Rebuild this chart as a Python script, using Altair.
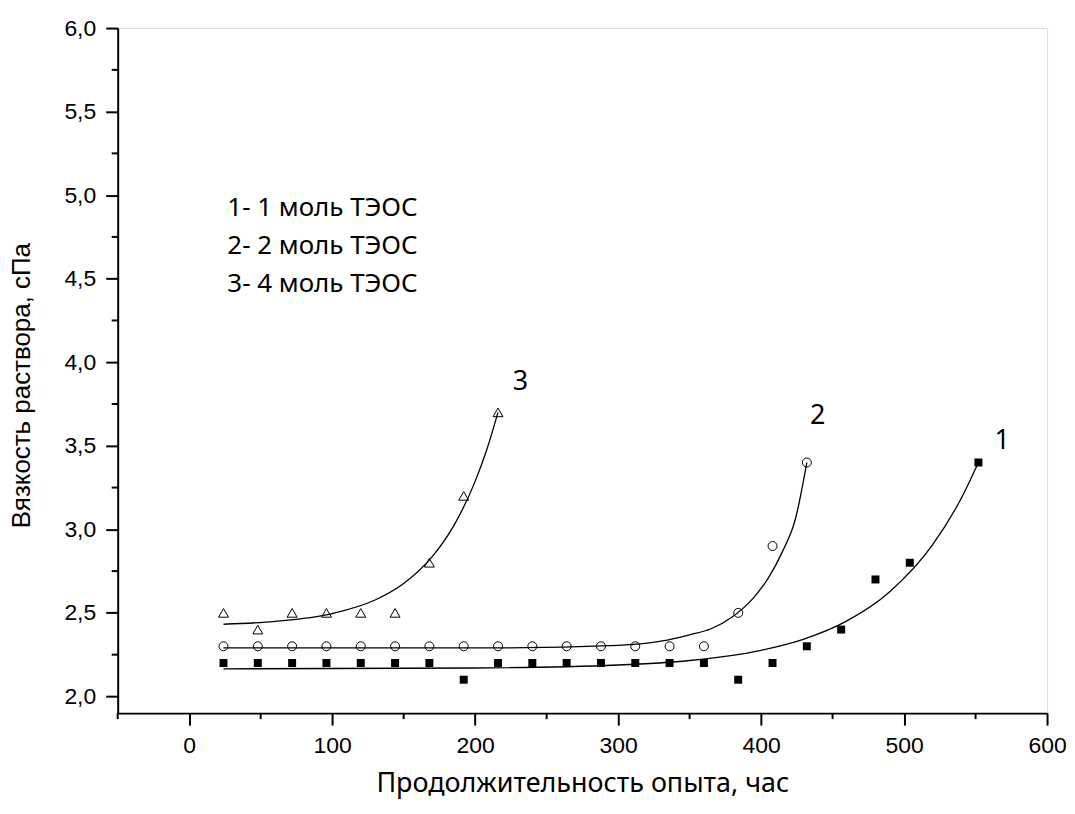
import altair as alt
import pandas as pd

# ---- measured points ----
X1 = [24, 48, 72, 96, 120, 144, 168, 192, 216, 240, 264, 288, 312, 336, 360,
      384, 408, 432, 456, 480, 504, 552]
Y1 = [2.2, 2.2, 2.2, 2.2, 2.2, 2.2, 2.2, 2.1, 2.2, 2.2, 2.2, 2.2, 2.2, 2.2, 2.2,
      2.1, 2.2, 2.3, 2.4, 2.7, 2.8, 3.4]

X2 = [24, 48, 72, 96, 120, 144, 168, 192, 216, 240, 264, 288, 312, 336, 360,
      384, 408, 432]
Y2 = [2.3, 2.3, 2.3, 2.3, 2.3, 2.3, 2.3, 2.3, 2.3, 2.3, 2.3, 2.3, 2.3, 2.3, 2.3,
      2.5, 2.9, 3.4]

X3 = [24, 48, 72, 96, 120, 144, 168, 192, 216]
Y3 = [2.5, 2.4, 2.5, 2.5, 2.5, 2.5, 2.8, 3.2, 3.7]

# ---- fitted curves ----
C1X = [24, 200, 300, 350, 400, 430, 460, 490, 520, 540, 552]
C1Y = [2.165, 2.170, 2.188, 2.215, 2.276, 2.343, 2.452, 2.627, 2.908, 3.186, 3.40]

C2X = [24, 200, 300, 330, 350, 365, 380, 395, 405, 415, 424, 432]
C2Y = [2.29, 2.29, 2.306, 2.331, 2.369, 2.405, 2.477, 2.593, 2.708, 2.868, 3.062, 3.40]

C3X = [24, 60, 100, 130, 150, 170, 185, 200, 208, 216]
C3Y = [2.432, 2.449, 2.496, 2.577, 2.676, 2.837, 3.021, 3.287, 3.473, 3.70]

# ---- text ----
LEGEND_LINES = ["1- 1 моль ТЭОС", "2- 2 моль ТЭОС", "3- 4 моль ТЭОС"]
LEGEND_X = [26.7, 26.7, 26.7]
LEGEND_Y = [4.922, 4.694, 4.466]

CURVE_LABELS = ["1", "2", "3"]
CURVE_LABEL_X = [568.6, 439.6, 231.7]
CURVE_LABEL_Y = [3.53, 3.68, 3.88]

X_TITLE = "Продолжительность опыта, час"
Y_TITLE = "Вязкость раствора, сПа"

X_DOMAIN = [-50, 600]
Y_DOMAIN = [1.9, 6.0]
X_MAJOR = [0, 100, 200, 300, 400, 500, 600]
X_MINOR = [-50, 50, 150, 250, 350, 450, 550]
Y_MAJOR = [2.0, 2.5, 3.0, 3.5, 4.0, 4.5, 5.0, 5.5, 6.0]
Y_MINOR = [2.25, 2.75, 3.25, 3.75, 4.25, 4.75, 5.25, 5.75]

W, H = 932, 687

pts1 = pd.DataFrame({"x": X1, "y": Y1})
pts2 = pd.DataFrame({"x": X2, "y": Y2})
pts3 = pd.DataFrame({"x": X3, "y": Y3})
curves = pd.concat([
    pd.DataFrame({"x": C1X, "y": C1Y, "s": "1"}),
    pd.DataFrame({"x": C2X, "y": C2Y, "s": "2"}),
    pd.DataFrame({"x": C3X, "y": C3Y, "s": "3"}),
])
legend_df = pd.DataFrame({"x": LEGEND_X, "y": LEGEND_Y, "t": LEGEND_LINES})
clab_df = pd.DataFrame({"x": CURVE_LABEL_X, "y": CURVE_LABEL_Y, "t": CURVE_LABELS})
xminor_df = pd.DataFrame({"x": X_MINOR})
yminor_df = pd.DataFrame({"y": Y_MINOR})

xscale = alt.Scale(domain=X_DOMAIN, nice=False, zero=False)
yscale = alt.Scale(domain=Y_DOMAIN, nice=False, zero=False)

xaxis = alt.Axis(
    values=X_MAJOR, title=X_TITLE, grid=False,
    tickSize=12, tickWidth=2, tickColor="black",
    domainWidth=2, domainColor="black",
    labelFont="Liberation Sans", labelFontSize=23, labelColor="black",
    labelPadding=9, labelFlush=False,
    titleFont="Noto Sans", titleFontSize=27, titleFontWeight="normal",
    titleColor="black", titleY=71, titleBaseline="middle",
)
yaxis = alt.Axis(
    values=Y_MAJOR, title=Y_TITLE, grid=False,
    tickSize=12, tickWidth=2, tickColor="black",
    domainWidth=2, domainColor="black",
    labelExpr="replace(format(datum.value, '.1f'), '.', ',')",
    labelFont="Liberation Sans", labelFontSize=23, labelColor="black",
    labelPadding=10, labelFlush=False,
    titleFont="Liberation Sans", titleFontSize=26, titleFontWeight="normal",
    titleColor="black", titleAngle=270, titleX=-96, titleY=358,
    titleAlign="center", titleBaseline="middle",
)

base_x = alt.X("x:Q", scale=xscale, axis=xaxis)
base_y = alt.Y("y:Q", scale=yscale, axis=yaxis)

lines = alt.Chart(curves).mark_line(
    color="black", strokeWidth=1.3, interpolate="monotone"
).encode(x=base_x, y=base_y, detail="s:N")

sq = alt.Chart(pts1).mark_point(
    shape="square", filled=True, color="black", size=64, opacity=1
).encode(x="x:Q", y="y:Q")

ci = alt.Chart(pts2).mark_point(
    shape="circle", filled=False, color="black", size=81, strokeWidth=1, opacity=1
).encode(x="x:Q", y="y:Q")

tr = alt.Chart(pts3).mark_point(
    shape="triangle-up", filled=False, color="black", size=100, strokeWidth=1, opacity=1
).encode(x="x:Q", y="y:Q")

leg = alt.Chart(legend_df).mark_text(
    font="Noto Sans", fontSize=26, align="left", baseline="middle", color="black"
).encode(x="x:Q", y="y:Q", text="t:N")

clab = alt.Chart(clab_df).mark_text(
    font="Noto Sans", fontSize=27, align="center", baseline="middle", color="black"
).encode(x="x:Q", y="y:Q", text="t:N")

xminor = alt.Chart(xminor_df).mark_rule(color="black", strokeWidth=2).encode(
    x="x:Q", y=alt.value(H), y2=alt.value(H + 6)
)
yminor = alt.Chart(yminor_df).mark_rule(color="black", strokeWidth=2).encode(
    y="y:Q", x=alt.value(0), x2=alt.value(-6)
)

chart = alt.layer(lines, sq, ci, tr, leg, clab, xminor, yminor).properties(
    width=W, height=H,
    autosize=alt.AutoSizeParams(type="none"),
    padding={"left": 110, "top": 19, "right": 20, "bottom": 86},
).configure_view(stroke=None).configure(background="white")

chart.save("out.html", embed_options={"renderer": "svg", "actions": False})
